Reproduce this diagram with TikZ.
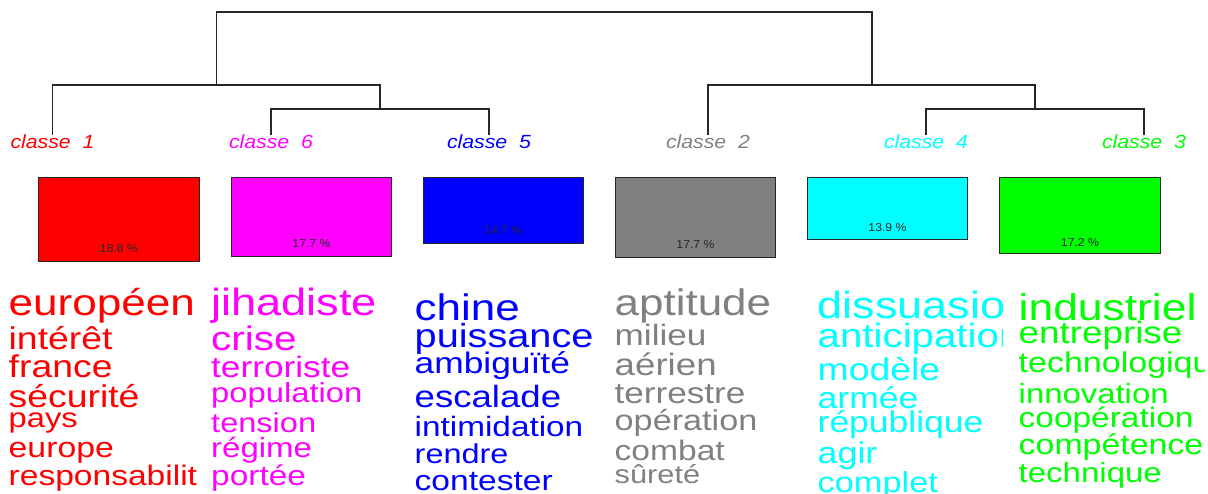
\documentclass[tikz,border=0pt]{standalone}
\usepackage{fontspec}
\setmainfont{Liberation Sans}
\definecolor{cR}{HTML}{FF0000}
\definecolor{cM}{HTML}{FF00FF}
\definecolor{cB}{HTML}{0000FF}
\definecolor{cG}{HTML}{808080}
\definecolor{cC}{HTML}{00FFFF}
\definecolor{cV}{HTML}{00FF00}
\newcommand\wrd[4]{\node[word] (#1) at (\wx,-#2) {\pgfmathsetmacro\fsz{#3*0.94}\fontsize{\fsz}{\fsz}\selectfont\scalebox{1.19}[1]{#4}};}
\begin{document}
\begin{tikzpicture}[x=1pt,y=1pt,
  word/.style={anchor=base west,inner sep=0pt},
  lab/.style={anchor=base,inner sep=0pt,font=\fontsize{19}{19}\selectfont\itshape},
  box/.style={draw=black!85,line width=0.9pt,anchor=north west,inner sep=0pt},
  pct/.style={anchor=base,inner sep=0pt,text=black!85,font=\fontsize{11.5}{11.5}\selectfont},
  tree/.style={draw=black!85,line width=1.3pt}]
\useasboundingbox (0,0) rectangle (1208,-493);

% class labels
\node[lab,text=cR] (l1) at (52.5,-148.5) {\scalebox{1.12}[1]{classe\ \ 1}};
\node[lab,text=cM] (l6) at (271,-148.5) {\scalebox{1.12}[1]{classe\ \ 6}};
\node[lab,text=cB] (l5) at (489,-148.5) {\scalebox{1.12}[1]{classe\ \ 5}};
\node[lab,text=cG] (l2) at (708,-148.5) {\scalebox{1.12}[1]{classe\ \ 2}};
\node[lab,text=cC] (l4) at (926,-148.5) {\scalebox{1.12}[1]{classe\ \ 4}};
\node[lab,text=cV] (l3) at (1144,-148.5) {\scalebox{1.12}[1]{classe\ \ 3}};

% dendrogram
\coordinate (j65) at (380,-109);
\coordinate (j165) at (216.5,-85);
\coordinate (j43) at (1035,-109);
\coordinate (j243) at (872,-85);
\coordinate (root) at (544,-12);
\draw[tree] (l6.north) |- (j65) -| (l5.north);
\draw[tree] (l1.north) |- (j165) -| (j65);
\draw[tree] (l4.north) |- (j43) -| (l3.north);
\draw[tree] (l2.north) |- (j243) -| (j43);
\draw[tree] (j165) |- (root) -| (j243);

% boxes
\node[box,fill=cR,minimum width=161pt,minimum height=84pt] (b1) at (38,-177) {};
\node[box,fill=cM,minimum width=160pt,minimum height=79pt] (b6) at (231,-177) {};
\node[box,fill=cB,minimum width=160pt,minimum height=66pt] (b5) at (423,-177) {};
\node[box,fill=cG,minimum width=160pt,minimum height=80pt] (b2) at (615,-177) {};
\node[box,fill=cC,minimum width=160pt,minimum height=62pt] (b4) at (807,-177) {};
\node[box,fill=cV,minimum width=161pt,minimum height=76pt] (b3) at (999,-177) {};
\node[pct] (p1) at ([yshift=9pt]b1.south) {\scalebox{1.06}[1]{18.8 \%}};
\node[pct] (p6) at ([yshift=9pt]b6.south) {\scalebox{1.06}[1]{17.7 \%}};
\node[pct] (p5) at ([yshift=9pt]b5.south) {\scalebox{1.06}[1]{14.7 \%}};
\node[pct] (p2) at ([yshift=9pt]b2.south) {\scalebox{1.06}[1]{17.7 \%}};
\node[pct] (p4) at ([yshift=8pt]b4.south) {\scalebox{1.06}[1]{13.9 \%}};
\node[pct] (p3) at ([yshift=7pt]b3.south) {\scalebox{1.06}[1]{17.2 \%}};

% column 1
\begin{scope}[text=cR]
\clip (0,-270) rectangle (196,-493);
\def\wx{8.5}
\wrd{a1}{315}{39.4}{européen}
\wrd{a2}{349}{33.4}{intérêt}
\wrd{a3}{377}{33.4}{france}
\wrd{a4}{407}{33.4}{sécurité}
\wrd{a5}{427}{29.2}{pays}
\wrd{a6}{457}{30.2}{europe}
\wrd{a7}{485}{30}{responsabilité}
\end{scope}
% column 2
\begin{scope}[text=cM]
\clip (200,-270) rectangle (405,-493);
\def\wx{211}
\wrd{c1}{315}{40.4}{jihadiste}
\wrd{c2}{350}{36.2}{crise}
\wrd{c3}{377}{31.5}{terroriste}
\wrd{c4}{402}{29.3}{population}
\wrd{c5}{432}{29.1}{tension}
\wrd{c6}{457}{29.5}{régime}
\wrd{c7}{485}{29.9}{portée}
\end{scope}
% column 3
\begin{scope}[text=cB]
\clip (405,-270) rectangle (605,-493);
\def\wx{414.5}
\wrd{d1}{320}{39.3}{chine}
\wrd{d2}{347}{35.5}{puissance}
\wrd{d3}{373}{31.6}{ambiguïté}
\wrd{d4}{407}{32.7}{escalade}
\wrd{d5}{436}{29.8}{intimidation}
\wrd{d6}{463}{29}{rendre}
\wrd{d7}{490}{30}{contester}
\end{scope}
% column 4
\begin{scope}[text=cG]
\clip (605,-270) rectangle (805,-493);
\def\wx{614.5}
\wrd{e1}{315}{39.3}{aptitude}
\wrd{e2}{345}{31.4}{milieu}
\wrd{e3}{375}{32.8}{aérien}
\wrd{e4}{403}{31.4}{terrestre}
\wrd{e5}{430}{30.6}{opération}
\wrd{e6}{460}{30}{combat}
\wrd{e7}{483}{27.5}{sûreté}
\end{scope}
% column 5
\begin{scope}[text=cC]
\clip (805,-270) rectangle (1002,-493);
\def\wx{817.5}
\wrd{f1}{318}{40.2}{dissuasion}
\wrd{f2}{347}{36}{anticipation}
\wrd{f3}{380}{33.4}{modèle}
\wrd{f4}{408}{31.8}{armée}
\wrd{f5}{432}{31.7}{république}
\wrd{f6}{463}{32}{agir}
\wrd{f7}{492}{30.7}{complet}
\end{scope}
% column 6
\begin{scope}[text=cV]
\clip (1005,-270) rectangle (1204,-493);
\def\wx{1018.5}
\wrd{g1}{320}{39.7}{industriel}
\wrd{g2}{343}{32.9}{entreprise}
\wrd{g3}{372}{30.4}{technologique}
\wrd{g4}{403}{29.4}{innovation}
\wrd{g5}{427}{29.9}{coopération}
\wrd{g6}{454}{30.3}{compétence}
\wrd{g7}{482}{29.5}{technique}
\end{scope}
\end{tikzpicture}
\end{document}
